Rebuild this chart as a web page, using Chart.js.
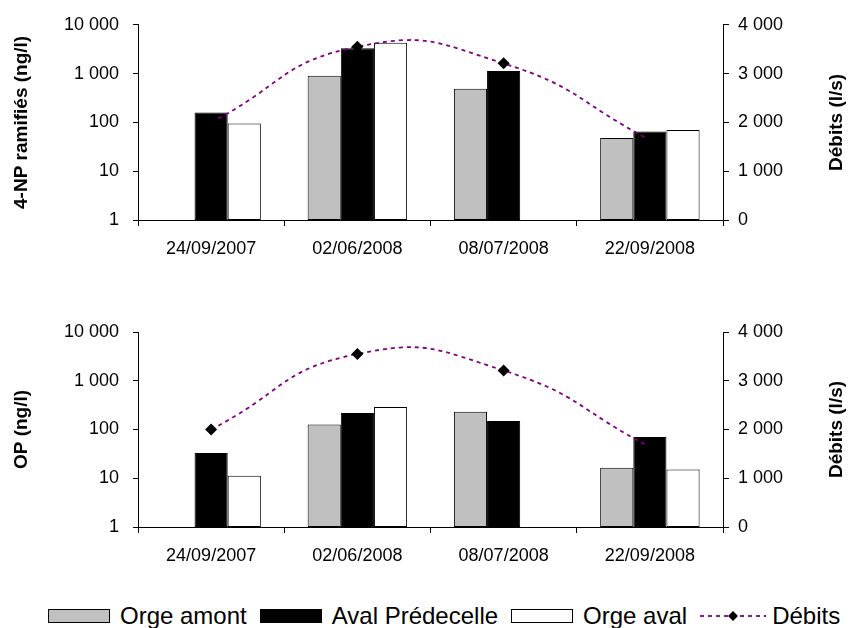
<!DOCTYPE html>
<html>
<head>
<meta charset="UTF-8">
<title>4-NP ramifiés et OP - Débits</title>
<script src="https://cdn.jsdelivr.net/npm/chart.js"></script>
<style>
  body { margin: 0; background: #fff; font-family: "Liberation Sans", Arial, sans-serif; }
  #wrap { position: relative; width: 857px; height: 628px; overflow: hidden; }
  canvas { position: absolute; left: 0; }
  #chartNP { top: 0; }
  #chartOP { top: 300px; }
  #legend { position: absolute; top: 602px; left: 48px; height: 28px; display: flex; align-items: center; font-size: 24px; color: #000; white-space: nowrap; }
  .item { display: flex; align-items: center; margin-right: 13px; }
  .box { width: 60px; height: 12px; border: 1px solid #000; margin-right: 10px; }
</style>
</head>
<body>
<div id="wrap">
  <canvas id="chartNP" width="857" height="275"></canvas>
  <canvas id="chartOP" width="857" height="282"></canvas>
  <div id="legend"></div>
</div>
<script>
// dates de prélèvement
const dates = ['24/09/2007', '02/06/2008', '08/07/2008', '22/09/2008'];

// 4-NP ramifiés (ng/l)
const npOrgeAmont = [null, 900, 490, 48];
const npAvalPredecelle = [160, 3300, 1130, 65];
const npOrgeAval = [95, 4300, null, 70];

// OP (ng/l)
const opOrgeAmont = [null, 126, 230, 16.5];
const opAvalPredecelle = [33, 218, 149, 70];
const opOrgeAval = [11.3, 290, null, 15.2];

// débits (l/s)
const debits = [2000, 3550, 3210, 1640];

const logTicks = [1, 10, 100, 1000, 10000];
const debitTicks = [0, 1000, 2000, 3000, 4000];

const seriesNames = ['Orge amont', 'Aval Prédecelle', 'Orge aval', 'Débits'];
const FONT = '"Liberation Sans", Arial, sans-serif';

function fmt(v) {
  return String(v).replace(/\B(?=(\d{3})+(?!\d))/g, ' ');
}

// titre de l'axe de droite, lu de bas en haut
const rightTitle = {
  id: 'rightTitle',
  afterDraw(chart, args, opts) {
    const s = chart.scales.y2;
    const ctx = chart.ctx;
    ctx.save();
    ctx.translate(s.right - 20, (s.top + s.bottom) / 2);
    ctx.rotate(-Math.PI / 2);
    ctx.font = 'bold 19px ' + FONT;
    ctx.textAlign = 'center';
    ctx.textBaseline = 'middle';
    ctx.fillStyle = '#000';
    ctx.fillText(opts.text, 0, 0);
    ctx.restore();
  }
};

function makeChart(id, leftTitle, amont, aval, orgeAval, padTop) {
  const barBase = { borderColor: '#000', borderWidth: 1, borderSkipped: false, order: 1, yAxisID: 'y' };
  return new Chart(document.getElementById(id), {
    type: 'bar',
    data: {
      labels: dates,
      datasets: [
        { ...barBase, label: seriesNames[0], data: amont, backgroundColor: '#c0c0c0' },
        { ...barBase, label: seriesNames[1], data: aval, backgroundColor: '#000' },
        { ...barBase, label: seriesNames[2], data: orgeAval, backgroundColor: '#fff' },
        {
          type: 'line', label: seriesNames[3], data: debits, yAxisID: 'y2', order: 0,
          borderColor: '#800080', borderWidth: 1.8, borderDash: [4, 4], tension: 0.5,
          pointStyle: 'rectRot', pointRadius: 6, pointBackgroundColor: '#000', pointBorderColor: '#000',
          pointBorderWidth: 0, fill: false
        }
      ]
    },
    options: {
      responsive: false,
      animation: false,
      layout: { padding: { top: padTop, left: 0, right: 0, bottom: 0 } },
      datasets: { bar: { barPercentage: 1, categoryPercentage: 0.68 } },
      plugins: {
        legend: { display: false },
        tooltip: { enabled: false },
        rightTitle: { text: 'Débits (l/s)' }
      },
      scales: {
        x: {
          grid: { offset: true, drawOnChartArea: false, tickLength: 6, color: '#000' },
          border: { color: '#000', width: 1 },
          ticks: { color: '#000', font: { family: FONT, size: 18 }, padding: 12, maxRotation: 0 },
          afterFit: s => { s.height = 55; }
        },
        y: {
          type: 'logarithmic', position: 'left', min: 1, max: 10000,
          afterBuildTicks: s => { s.ticks = logTicks.map(v => ({ value: v })); },
          grid: { drawOnChartArea: false, tickLength: 5, color: '#000' },
          border: { color: '#000', width: 1 },
          ticks: { color: '#000', font: { family: FONT, size: 18 }, padding: 14, callback: v => fmt(v) },
          title: { display: true, text: leftTitle, color: '#000', font: { family: FONT, size: 19, weight: 'bold' }, padding: { top: 10, bottom: 0 } },
          afterFit: s => { s.width = 138; }
        },
        y2: {
          position: 'right', min: 0, max: 4000,
          afterBuildTicks: s => { s.ticks = debitTicks.map(v => ({ value: v })); },
          grid: { drawOnChartArea: false, tickLength: 6, color: '#000' },
          border: { color: '#000', width: 1 },
          ticks: { color: '#000', font: { family: FONT, size: 18 }, padding: 9, callback: v => fmt(v) },
          afterFit: s => { s.width = 134; }
        }
      }
    },
    plugins: [rightTitle]
  });
}

makeChart('chartNP', '4-NP ramifiés (ng/l)', npOrgeAmont, npAvalPredecelle, npOrgeAval, 24);
makeChart('chartOP', 'OP (ng/l)', opOrgeAmont, opAvalPredecelle, opOrgeAval, 32);

// légende commune sous les deux graphiques
const legendBoxes = ['#c0c0c0', '#000', '#fff'];
const legend = document.getElementById('legend');
seriesNames.forEach((name, i) => {
  const item = document.createElement('div');
  item.className = 'item';
  if (i < 3) {
    const b = document.createElement('div');
    b.className = 'box';
    b.style.background = legendBoxes[i];
    item.appendChild(b);
  } else {
    const c = document.createElement('canvas');
    c.width = 66; c.height = 14;
    c.style.position = 'static';
    c.style.marginRight = '6px';
    const g = c.getContext('2d');
    g.strokeStyle = '#800080'; g.lineWidth = 1.8; g.setLineDash([4, 4]);
    g.beginPath(); g.moveTo(0, 7); g.lineTo(66, 7); g.stroke();
    g.fillStyle = '#000';
    g.beginPath(); g.moveTo(33, 2); g.lineTo(38, 7); g.lineTo(33, 12); g.lineTo(28, 7); g.closePath(); g.fill();
    item.appendChild(c);
  }
  const t = document.createElement('span');
  t.textContent = name;
  item.appendChild(t);
  legend.appendChild(item);
});
</script>
</body>
</html>
